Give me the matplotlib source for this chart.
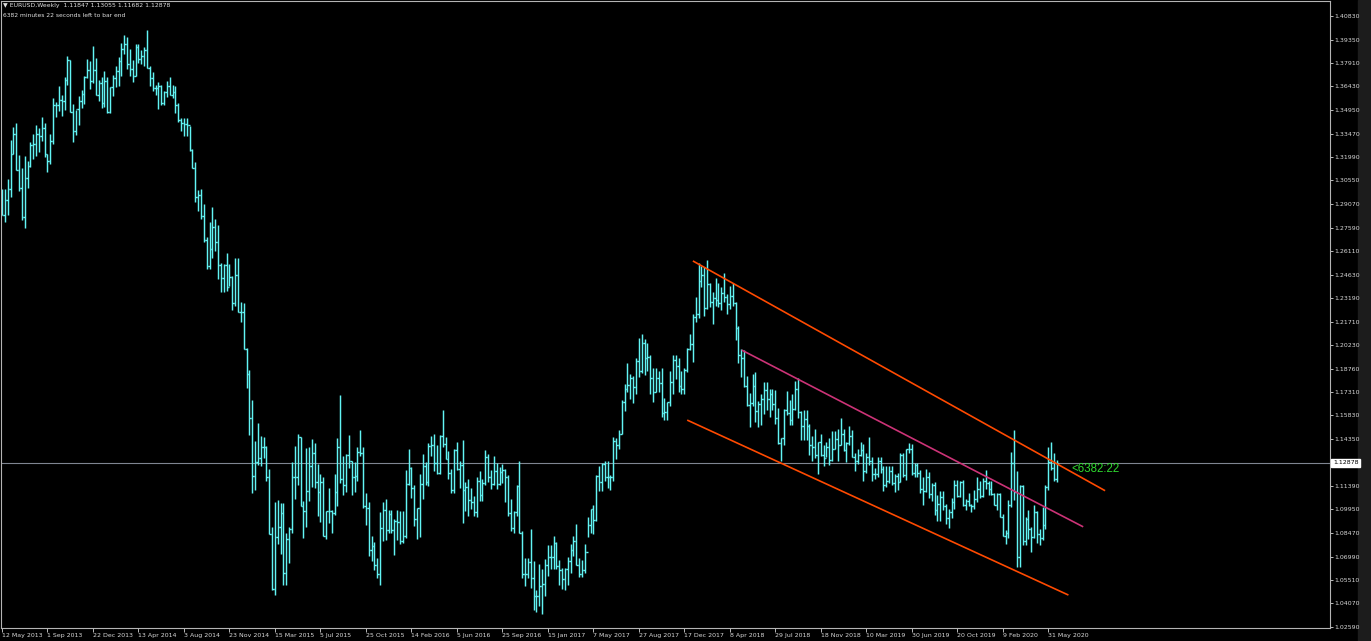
import numpy as np
import matplotlib
matplotlib.use('Agg')
import matplotlib.pyplot as plt
from matplotlib.patches import Rectangle

# EURUSD weekly bars, first week starts 12 May 2013 (one value per week)
first_open = 1.2990
highs = [
    1.3000, 1.2998, 1.3061, 1.3306, 1.3390, 1.3416, 1.3210, 1.3133, 1.3208, 1.3176,
    1.3297, 1.3346, 1.3399, 1.3385, 1.3452, 1.3415, 1.3222, 1.3343, 1.3569, 1.3542,
    1.3646, 1.3589, 1.3703, 1.3832, 1.3806, 1.3531, 1.3495, 1.3580, 1.3620, 1.3710,
    1.3811, 1.3800, 1.3893, 1.3823, 1.3685, 1.3700, 1.3740, 1.3702, 1.3640, 1.3716,
    1.3773, 1.3825, 1.3915, 1.3967, 1.3949, 1.3877, 1.3810, 1.3905, 1.3907, 1.3873,
    1.3887, 1.3993, 1.3768, 1.3732, 1.3651, 1.3670, 1.3650, 1.3614, 1.3676, 1.3700,
    1.3650, 1.3644, 1.3539, 1.3442, 1.3443, 1.3445, 1.3393, 1.3250, 1.3168, 1.2996,
    1.3000, 1.2904, 1.2699, 1.2791, 1.2887, 1.2812, 1.2775, 1.2535, 1.2533, 1.2600,
    1.2530, 1.2457, 1.2570, 1.2571, 1.2295, 1.2288, 1.2005, 1.1867, 1.1680, 1.1423,
    1.1534, 1.1452, 1.1448, 1.1390, 1.1245, 1.0887, 1.1043, 1.1052, 1.1035, 1.1037,
    1.0848, 1.0887, 1.1290, 1.1392, 1.1467, 1.1450, 1.1045, 1.1380, 1.1385, 1.1436,
    1.1410, 1.1278, 1.1215, 1.1200, 1.0986, 1.1130, 1.0990, 1.1215, 1.1440, 1.1714,
    1.1330, 1.1340, 1.1460, 1.1295, 1.1290, 1.1386, 1.1495, 1.1385, 1.1096, 1.1040,
    1.0830, 1.0790, 1.0690, 1.0981, 1.1043, 1.1060, 1.0990, 1.0990, 1.0932, 1.0992,
    1.0988, 1.0985, 1.1240, 1.1376, 1.1260, 1.1150, 1.1005, 1.1218, 1.1342, 1.1290,
    1.1410, 1.1454, 1.1465, 1.1400, 1.1460, 1.1616, 1.1448, 1.1360, 1.1248, 1.1374,
    1.1416, 1.1298, 1.1428, 1.1167, 1.1185, 1.1131, 1.1082, 1.1198, 1.1234, 1.1185,
    1.1366, 1.1339, 1.1240, 1.1327, 1.1283, 1.1258, 1.1280, 1.1250, 1.1210, 1.1058,
    1.0985, 1.1146, 1.1300, 1.0860, 1.0688, 1.0690, 1.0874, 1.0670, 1.0490, 1.0655,
    1.0620, 1.0685, 1.0775, 1.0775, 1.0828, 1.0790, 1.0680, 1.0630, 1.0630, 1.0700,
    1.0780, 1.0830, 1.0906, 1.0690, 1.0680, 1.0776, 1.0950, 1.1000, 1.1024, 1.1210,
    1.1268, 1.1285, 1.1296, 1.1296, 1.1210, 1.1446, 1.1440, 1.1490, 1.1680, 1.1777,
    1.1910, 1.1845, 1.1830, 1.1940, 1.2070, 1.2092, 1.2060, 1.2035, 1.1960, 1.1880,
    1.1880, 1.1860, 1.1880, 1.1690, 1.1670, 1.1860, 1.1960, 1.1960, 1.1940, 1.1860,
    1.1880, 1.2005, 1.2090, 1.2220, 1.2323, 1.2537, 1.2520, 1.2510, 1.2555, 1.2410,
    1.2355, 1.2445, 1.2412, 1.2390, 1.2475, 1.2345, 1.2395, 1.2414, 1.2290, 1.2140,
    1.1996, 1.1995, 1.1830, 1.1725, 1.1840, 1.1852, 1.1675, 1.1720, 1.1790, 1.1790,
    1.1750, 1.1750, 1.1745, 1.1630, 1.1440, 1.1625, 1.1735, 1.1680, 1.1720, 1.1800,
    1.1815, 1.1610, 1.1620, 1.1620, 1.1530, 1.1455, 1.1500, 1.1420, 1.1470, 1.1400,
    1.1420, 1.1440, 1.1485, 1.1485, 1.1500, 1.1570, 1.1500, 1.1420, 1.1515, 1.1490,
    1.1345, 1.1370, 1.1420, 1.1405, 1.1345, 1.1450, 1.1325, 1.1255, 1.1325, 1.1325,
    1.1265, 1.1265, 1.1265, 1.1265, 1.1215, 1.1225, 1.1350, 1.1345, 1.1375, 1.1410,
    1.1405, 1.1285, 1.1285, 1.1240, 1.1200, 1.1250, 1.1230, 1.1160, 1.1165, 1.1085,
    1.1110, 1.1110, 1.1030, 1.0995, 1.1065, 1.1180, 1.1180, 1.1175, 1.1180, 1.1060,
    1.1095, 1.1030, 1.1115, 1.1200, 1.1175, 1.1190, 1.1240, 1.1170, 1.1175, 1.1100,
    1.1095, 1.1095, 1.0965, 1.0865, 1.1055, 1.1355, 1.1495, 1.1235, 1.1145, 1.1145,
    1.0950, 1.0990, 1.0885, 1.1020, 1.0985, 1.0875, 1.1010, 1.1145, 1.1385, 1.1420,
    1.1350, 1.13055,
]
lows = [
    1.2835, 1.2796, 1.2840, 1.2953, 1.3218, 1.3120, 1.2990, 1.2806, 1.2755, 1.3004,
    1.3138, 1.3186, 1.3205, 1.3230, 1.3300, 1.3200, 1.3105, 1.3155, 1.3285, 1.3453,
    1.3486, 1.3460, 1.3494, 1.3651, 1.3480, 1.3295, 1.3340, 1.3400, 1.3510, 1.3533,
    1.3695, 1.3625, 1.3662, 1.3588, 1.3548, 1.3508, 1.3511, 1.3478, 1.3477, 1.3581,
    1.3640, 1.3642, 1.3710, 1.3845, 1.3749, 1.3705, 1.3672, 1.3705, 1.3790, 1.3780,
    1.3772, 1.3756, 1.3647, 1.3616, 1.3586, 1.3503, 1.3524, 1.3524, 1.3578, 1.3589,
    1.3571, 1.3477, 1.3422, 1.3366, 1.3332, 1.3333, 1.3239, 1.3131, 1.2920, 1.2860,
    1.2814, 1.2666, 1.2500, 1.2501, 1.2571, 1.2615, 1.2440, 1.2358, 1.2358, 1.2359,
    1.2391, 1.2245, 1.2268, 1.2232, 1.2166, 1.2002, 1.1754, 1.1460, 1.1098, 1.1114,
    1.1270, 1.1269, 1.1316, 1.1175, 1.0840, 1.0490, 1.0462, 1.0778, 1.0714, 1.0520,
    1.0521, 1.0660, 1.0848, 1.1060, 1.1150, 1.1017, 1.0818, 1.0888, 1.1050, 1.1133,
    1.1132, 1.0955, 1.0915, 1.0830, 1.0808, 1.0913, 1.0848, 1.0960, 1.1016, 1.1158,
    1.1087, 1.1104, 1.1257, 1.1085, 1.1101, 1.1174, 1.1328, 1.1002, 1.0897, 1.0705,
    1.0675, 1.0617, 1.0564, 1.0524, 1.0800, 1.0804, 1.0850, 1.0850, 1.0711, 1.0805,
    1.0778, 1.0785, 1.0815, 1.1150, 1.1067, 1.0890, 1.0810, 1.0822, 1.1058, 1.1145,
    1.1144, 1.1328, 1.1235, 1.1215, 1.1217, 1.1385, 1.1310, 1.1184, 1.1100, 1.1097,
    1.1240, 1.1131, 1.0912, 1.0985, 1.0952, 1.1000, 1.0952, 1.0950, 1.1045, 1.1045,
    1.1145, 1.1168, 1.1123, 1.1150, 1.1121, 1.1150, 1.1160, 1.1044, 1.0953, 1.0860,
    1.0850, 1.0952, 1.0845, 1.0567, 1.0517, 1.0567, 1.0505, 1.0366, 1.0352, 1.0390,
    1.0340, 1.0455, 1.0580, 1.0620, 1.0620, 1.0620, 1.0520, 1.0494, 1.0492, 1.0525,
    1.0600, 1.0705, 1.0650, 1.0570, 1.0570, 1.0600, 1.0820, 1.0850, 1.0838, 1.0920,
    1.1110, 1.1110, 1.1170, 1.1132, 1.1118, 1.1170, 1.1312, 1.1370, 1.1470, 1.1612,
    1.1728, 1.1688, 1.1662, 1.1720, 1.1823, 1.1850, 1.1837, 1.1860, 1.1717, 1.1670,
    1.1730, 1.1730, 1.1574, 1.1553, 1.1555, 1.1640, 1.1720, 1.1810, 1.1730, 1.1720,
    1.1715, 1.1855, 1.1995, 1.1915, 1.2165, 1.2195, 1.2385, 1.2206, 1.2250, 1.2260,
    1.2155, 1.2270, 1.2260, 1.2240, 1.2290, 1.2215, 1.2250, 1.2268, 1.2055, 1.1910,
    1.1822, 1.1763, 1.1645, 1.1510, 1.1640, 1.1540, 1.1508, 1.1525, 1.1590, 1.1615,
    1.1575, 1.1615, 1.1530, 1.1405, 1.1301, 1.1400, 1.1585, 1.1525, 1.1525, 1.1620,
    1.1570, 1.1430, 1.1430, 1.1430, 1.1335, 1.1300, 1.1315, 1.1215, 1.1330, 1.1265,
    1.1320, 1.1270, 1.1300, 1.1370, 1.1300, 1.1400, 1.1360, 1.1290, 1.1400, 1.1325,
    1.1235, 1.1277, 1.1330, 1.1175, 1.1225, 1.1270, 1.1175, 1.1185, 1.1200, 1.1225,
    1.1110, 1.1135, 1.1160, 1.1150, 1.1105, 1.1115, 1.1165, 1.1200, 1.1180, 1.1345,
    1.1210, 1.1200, 1.1200, 1.1100, 1.1025, 1.1105, 1.1065, 1.1050, 1.0960, 1.0925,
    1.0925, 1.0990, 1.0905, 1.0880, 1.0940, 1.1000, 1.1075, 1.1075, 1.1015, 1.0990,
    1.1015, 1.0980, 1.1000, 1.1040, 1.1065, 1.1070, 1.1125, 1.1085, 1.1085, 1.1020,
    1.0990, 1.0945, 1.0830, 1.0780, 1.0815, 1.1010, 1.1055, 1.0635, 1.0635, 1.0775,
    1.0770, 1.0810, 1.0730, 1.0815, 1.0785, 1.0775, 1.0805, 1.0870, 1.1115, 1.1240,
    1.1170, 1.11682,
]
closes = [
    1.2836, 1.2932, 1.3002, 1.3218, 1.3346, 1.3122, 1.3009, 1.2828, 1.3067, 1.3143,
    1.3278, 1.3279, 1.3343, 1.3330, 1.3381, 1.3219, 1.3177, 1.3299, 1.3525, 1.3524,
    1.3555, 1.3550, 1.3685, 1.3805, 1.3485, 1.3365, 1.3498, 1.3553, 1.3593, 1.3703,
    1.3743, 1.3675, 1.3742, 1.3590, 1.3665, 1.3540, 1.3677, 1.3485, 1.3636, 1.3692,
    1.3740, 1.3804, 1.3875, 1.3910, 1.3785, 1.3753, 1.3705, 1.3887, 1.3812, 1.3830,
    1.3870, 1.3755, 1.3695, 1.3630, 1.3635, 1.3643, 1.3540, 1.3605, 1.3647, 1.3591,
    1.3606, 1.3523, 1.3430, 1.3413, 1.3410, 1.3398, 1.3242, 1.3131, 1.2953, 1.2965,
    1.2830, 1.2683, 1.2519, 1.2627, 1.2760, 1.2670, 1.2525, 1.2445, 1.2525, 1.2390,
    1.2452, 1.2288, 1.2465, 1.2230, 1.2230, 1.2002, 1.1841, 1.1565, 1.1203, 1.1290,
    1.1317, 1.1388, 1.1383, 1.1195, 1.0843, 1.0495, 1.0822, 1.0888, 1.0970, 1.0600,
    1.0808, 1.0875, 1.1200, 1.1198, 1.1447, 1.1015, 1.0984, 1.1110, 1.1265, 1.1350,
    1.1165, 1.1107, 1.1165, 1.0830, 1.0982, 1.0985, 1.0970, 1.1104, 1.1385, 1.1185,
    1.1147, 1.1337, 1.1295, 1.1200, 1.1205, 1.1357, 1.1350, 1.1015, 1.1005, 1.0740,
    1.0767, 1.0647, 1.0593, 1.0880, 1.0990, 1.0866, 1.0968, 1.0865, 1.0922, 1.0915,
    1.0797, 1.0830, 1.1155, 1.1255, 1.1130, 1.0932, 1.1003, 1.1153, 1.1267, 1.1165,
    1.1390, 1.1400, 1.1285, 1.1225, 1.1455, 1.1402, 1.1310, 1.1222, 1.1115, 1.1366,
    1.1250, 1.1275, 1.1117, 1.1137, 1.1055, 1.1040, 1.0977, 1.1175, 1.1085, 1.1160,
    1.1324, 1.1197, 1.1155, 1.1234, 1.1154, 1.1227, 1.1240, 1.1200, 1.0971, 1.0880,
    1.0980, 1.1140, 1.0850, 1.0590, 1.0590, 1.0668, 1.0565, 1.0453, 1.0452, 1.0517,
    1.0530, 1.0644, 1.0700, 1.0698, 1.0785, 1.0640, 1.0615, 1.0562, 1.0620, 1.0670,
    1.0740, 1.0800, 1.0650, 1.0590, 1.0615, 1.0726, 1.0895, 1.0995, 1.0930, 1.1205,
    1.1165, 1.1282, 1.1195, 1.1197, 1.1195, 1.1425, 1.1400, 1.1470, 1.1665, 1.1750,
    1.1775, 1.1820, 1.1760, 1.1925, 1.1860, 1.2035, 1.1945, 1.1950, 1.1815, 1.1730,
    1.1820, 1.1785, 1.1600, 1.1605, 1.1665, 1.1795, 1.1930, 1.1895, 1.1770, 1.1750,
    1.1865, 1.2000, 1.2030, 1.2200, 1.2220, 1.2425, 1.2460, 1.2255, 1.2405, 1.2295,
    1.2315, 1.2305, 1.2288, 1.2352, 1.2325, 1.2280, 1.2330, 1.2285, 1.2130, 1.1960,
    1.1940, 1.1770, 1.1650, 1.1660, 1.1765, 1.1610, 1.1655, 1.1685, 1.1745, 1.1685,
    1.1720, 1.1655, 1.1565, 1.1410, 1.1440, 1.1620, 1.1600, 1.1555, 1.1625, 1.1750,
    1.1605, 1.1520, 1.1560, 1.1515, 1.1400, 1.1385, 1.1335, 1.1415, 1.1335, 1.1315,
    1.1385, 1.1305, 1.1370, 1.1435, 1.1395, 1.1470, 1.1365, 1.1410, 1.1455, 1.1325,
    1.1295, 1.1335, 1.1365, 1.1235, 1.1325, 1.1300, 1.1215, 1.1215, 1.1300, 1.1245,
    1.1150, 1.1170, 1.1235, 1.1160, 1.1205, 1.1165, 1.1335, 1.1210, 1.1370, 1.1370,
    1.1225, 1.1270, 1.1220, 1.1125, 1.1110, 1.1200, 1.1090, 1.1145, 1.0990, 1.1030,
    1.1075, 1.1015, 1.0940, 1.0980, 1.1040, 1.1145, 1.1080, 1.1165, 1.1020, 1.1050,
    1.1020, 1.1015, 1.1060, 1.1120, 1.1080, 1.1175, 1.1160, 1.1120, 1.1090, 1.1025,
    1.1090, 1.0945, 1.0830, 1.0845, 1.1025, 1.1285, 1.1105, 1.0695, 1.1140, 1.0800,
    1.0935, 1.0875, 1.0820, 1.0980, 1.0840, 1.0815, 1.0900, 1.1135, 1.1290, 1.1255,
    1.11847, 1.12878,
]

# x labels every 16 weeks
xtick_bars = list(range(0, 369, 16))
xtick_labels = ['12 May 2013', '1 Sep 2013', '22 Dec 2013', '13 Apr 2014', '3 Aug 2014',
                '23 Nov 2014', '15 Mar 2015', '5 Jul 2015', '25 Oct 2015', '14 Feb 2016',
                '5 Jun 2016', '25 Sep 2016', '15 Jan 2017', '7 May 2017', '27 Aug 2017',
                '17 Dec 2017', '8 Apr 2018', '29 Jul 2018', '18 Nov 2018', '10 Mar 2019',
                '30 Jun 2019', '20 Oct 2019', '9 Feb 2020', '31 May 2020']
ytick_vals = [1.40830, 1.39350, 1.37910, 1.36430, 1.34950, 1.33470, 1.31990, 1.30550,
              1.29070, 1.27590, 1.26110, 1.24630, 1.23190, 1.21710, 1.20230, 1.18760,
              1.17310, 1.15830, 1.14350, 1.11390, 1.09950, 1.08470, 1.06990, 1.05510,
              1.04070, 1.02590]

# trend lines: (bar index, price) end points
upper_line = [(243.0, 1.2550), (388.0, 1.1112)]
middle_line = [(260.2, 1.1992), (380.3, 1.0886)]
lower_line = [(241.0, 1.1554), (375.1, 1.0459)]

current_price = 1.12878
timer_text = '<6382:22'
header_1 = '\u25bc EURUSD,Weekly  1.11847 1.13055 1.11682 1.12878'
header_2 = '6382 minutes 22 seconds left to bar end'

W, H = 1371, 641
fig = plt.figure(figsize=(W / 100, H / 100), dpi=100, facecolor='black')
ax = fig.add_axes([1 / W, 13 / H, 1329 / W, 627 / H])
ax.set_facecolor('black')

n = len(closes)
x = np.arange(n)
opens = np.r_[first_open, closes[:-1]]
bar_col = '#62f4f4'
ax.vlines(x, lows, highs, color=bar_col, lw=1.05)
ax.hlines(opens, x - 0.5, x, color=bar_col, lw=1.0)
ax.hlines(closes, x, x + 0.5, color=bar_col, lw=1.0)

ax.axhline(current_price, color='#7f8591', lw=0.8, zorder=1)

for line, col in [(upper_line, '#ff4a00'), (lower_line, '#ff4a00'), (middle_line, '#cc3377')]:
    ax.plot([p[0] for p in line], [p[1] for p in line], color=col, lw=1.2, solid_capstyle='butt')

ax.text(n - 1 + 5, current_price, timer_text, color='#2ed82e', fontsize=8.3,
        family='Liberation Sans', ha='left', va='top')

ax.set_xlim(-0.35, 467.1)
ax.set_ylim(1.02528, 1.41769)

ax.yaxis.tick_right()
ax.set_yticks(ytick_vals)
ax.set_yticklabels(['%.5f' % v for v in ytick_vals])
ax.set_xticks(xtick_bars)
ax.set_xticklabels(xtick_labels, ha='left')
ax.tick_params(axis='y', colors='#d8d8d8', labelsize=4.5, length=1.8, width=0.6, pad=1.2)
ax.tick_params(axis='x', colors='#d8d8d8', labelsize=4.5, length=2.8, width=0.6, pad=0.8)
for s in ax.spines.values():
    s.set_color('#b4b4b4')
    s.set_linewidth(0.8)

ax.annotate('%.5f' % current_price, xy=(1, current_price), xycoords=('axes fraction', 'data'),
            xytext=(2.2, 0), textcoords='offset points', ha='left', va='center',
            fontsize=4.5, color='black', annotation_clip=False, zorder=10,
            bbox=dict(boxstyle='square,pad=0.25', fc='white', ec='white'))

fig.text(3 / W, 1 - 6 / H, header_1, color='#e0e0e0', fontsize=4.4, va='center', ha='left')
fig.text(3 / W, 1 - 15.5 / H, header_2, color='#e0e0e0', fontsize=4.3, va='center', ha='left')

fig.patches.append(Rectangle((1358 / W, 0), 13 / W, 1, transform=fig.transFigure,
                             color='#1c1c1c', zorder=-1))

fig.savefig('out.png', dpi=100, facecolor='black')
